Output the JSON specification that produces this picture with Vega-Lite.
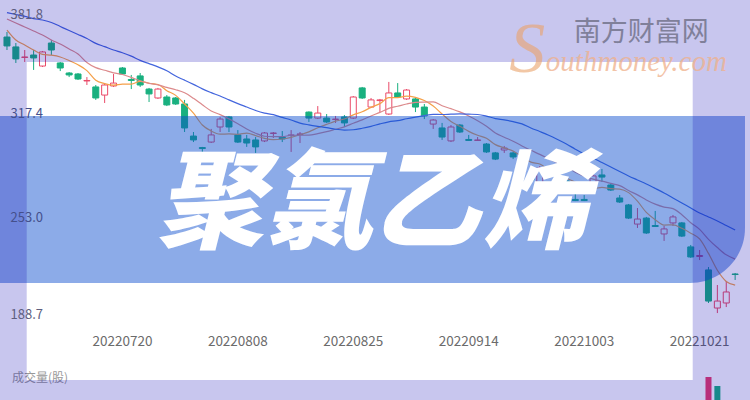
{
"$schema": "https://vega.github.io/schema/vega-lite/v6.json",
"width": 750, "height": 400, "autosize": "none", "padding": 0,
"background": "#ffffff",
"config": {"view": {"stroke": null}, "font": "Noto Sans CJK SC"},
"data": {"values": [
{"i":0,"date":"20220701","open":364.5,"high":367.6,"low":356.5,"close":359.0,"ma5":368.8,"ma10":375.6,"ma20":379.6},
{"i":1,"date":"20220704","open":358.4,"high":360.8,"low":348.5,"close":351.0,"ma5":362.7,"ma10":373.2,"ma20":378.4},
{"i":2,"date":"20220705","open":351.9,"high":356.5,"low":349.1,"close":352.2,"ma5":359.6,"ma10":370.7,"ma20":377.2},
{"i":3,"date":"20220706","open":353.4,"high":356.5,"low":344.2,"close":351.6,"ma5":356.5,"ma10":368.2,"ma20":375.9},
{"i":4,"date":"20220707","open":346.6,"high":355.9,"low":346.0,"close":355.3,"ma5":353.8,"ma10":365.8,"ma20":375.0},
{"i":5,"date":"20220708","open":360.8,"high":362.7,"low":353.4,"close":356.5,"ma5":353.3,"ma10":362.7,"ma20":373.5},
{"i":6,"date":"20220711","open":348.5,"high":349.1,"low":343.5,"close":345.4,"ma5":352.2,"ma10":360.2,"ma20":371.0},
{"i":7,"date":"20220712","open":342.3,"high":342.9,"low":339.8,"close":341.1,"ma5":350.0,"ma10":357.1,"ma20":368.5},
{"i":8,"date":"20220713","open":341.7,"high":342.3,"low":338.0,"close":338.6,"ma5":347.4,"ma10":354.0,"ma20":366.1},
{"i":9,"date":"20220714","open":337.4,"high":339.8,"low":334.9,"close":337.7,"ma5":343.8,"ma10":348.8,"ma20":363.6},
{"i":10,"date":"20220715","open":333.7,"high":334.9,"low":325.7,"close":326.9,"ma5":337.9,"ma10":345.6,"ma20":360.6},
{"i":11,"date":"20220718","open":328.7,"high":336.1,"low":323.8,"close":334.9,"ma5":335.8,"ma10":344.0,"ma20":358.6},
{"i":12,"date":"20220719","open":334.3,"high":341.7,"low":333.7,"close":336.1,"ma5":334.8,"ma10":342.4,"ma20":356.5},
{"i":13,"date":"20220720","open":345.4,"high":346.0,"low":341.1,"close":341.7,"ma5":335.4,"ma10":341.4,"ma20":354.8},
{"i":14,"date":"20220721","open":338.3,"high":341.1,"low":332.4,"close":337.7,"ma5":335.5,"ma10":339.6,"ma20":352.7},
{"i":15,"date":"20220722","open":340.5,"high":342.3,"low":333.7,"close":334.9,"ma5":337.1,"ma10":337.5,"ma20":350.1},
{"i":16,"date":"20220725","open":332.4,"high":333.1,"low":324.4,"close":329.4,"ma5":336.0,"ma10":335.9,"ma20":348.1},
{"i":17,"date":"20220726","open":326.9,"high":333.1,"low":326.3,"close":332.4,"ma5":335.2,"ma10":335.0,"ma20":346.1},
{"i":18,"date":"20220727","open":327.5,"high":328.7,"low":321.9,"close":322.6,"ma5":331.4,"ma10":333.4,"ma20":343.7},
{"i":19,"date":"20220728","open":326.9,"high":327.5,"low":322.6,"close":323.2,"ma5":328.5,"ma10":332.0,"ma20":340.4},
{"i":20,"date":"20220729","open":323.2,"high":325.7,"low":305.9,"close":308.4,"ma5":323.2,"ma10":330.1,"ma20":337.9},
{"i":21,"date":"20220801","open":303.4,"high":305.9,"low":299.7,"close":301.0,"ma5":317.5,"ma10":326.7,"ma20":335.3},
{"i":22,"date":"20220802","open":296.3,"high":296.7,"low":290.5,"close":295.7,"ma5":310.2,"ma10":322.7,"ma20":332.5},
{"i":23,"date":"20220803","open":299.7,"high":307.8,"low":299.1,"close":304.1,"ma5":306.5,"ma10":318.9,"ma20":330.2},
{"i":24,"date":"20220804","open":309.0,"high":315.2,"low":305.9,"close":313.9,"ma5":304.6,"ma10":316.6,"ma20":328.1},
{"i":25,"date":"20220805","open":315.2,"high":315.8,"low":305.9,"close":309.0,"ma5":304.7,"ma10":314.0,"ma20":325.7},
{"i":26,"date":"20220808","open":304.1,"high":307.1,"low":299.1,"close":299.7,"ma5":304.5,"ma10":311.0,"ma20":323.4},
{"i":27,"date":"20220809","open":301.6,"high":304.1,"low":296.7,"close":299.1,"ma5":305.2,"ma10":307.7,"ma20":321.3},
{"i":28,"date":"20220810","open":301.0,"high":302.8,"low":293.0,"close":296.7,"ma5":303.7,"ma10":305.1,"ma20":319.2},
{"i":29,"date":"20220811","open":300.4,"high":305.9,"low":299.7,"close":305.3,"ma5":302.0,"ma10":303.3,"ma20":317.6},
{"i":30,"date":"20220812","open":305.0,"high":305.9,"low":302.2,"close":305.3,"ma5":301.2,"ma10":303.0,"ma20":316.6},
{"i":31,"date":"20220815","open":302.8,"high":306.5,"low":299.7,"close":301.6,"ma5":301.6,"ma10":303.0,"ma20":314.9},
{"i":32,"date":"20220816","open":303.7,"high":307.1,"low":293.6,"close":304.1,"ma5":302.6,"ma10":303.9,"ma20":313.3},
{"i":33,"date":"20220817","open":304.4,"high":305.9,"low":299.1,"close":304.7,"ma5":304.2,"ma10":303.9,"ma20":311.4},
{"i":34,"date":"20220818","open":318.2,"high":318.6,"low":312.1,"close":314.5,"ma5":306.0,"ma10":304.0,"ma20":310.3},
{"i":35,"date":"20220819","open":314.5,"high":321.9,"low":313.9,"close":317.6,"ma5":308.5,"ma10":304.9,"ma20":309.4},
{"i":36,"date":"20220822","open":314.5,"high":317.0,"low":311.5,"close":312.1,"ma5":310.6,"ma10":306.1,"ma20":308.6},
{"i":37,"date":"20220823","open":313.6,"high":315.8,"low":311.5,"close":313.9,"ma5":312.6,"ma10":307.6,"ma20":307.6},
{"i":38,"date":"20220824","open":315.2,"high":316.4,"low":309.0,"close":311.5,"ma5":313.9,"ma10":309.1,"ma20":307.1},
{"i":39,"date":"20220825","open":314.5,"high":328.1,"low":313.9,"close":327.5,"ma5":316.5,"ma10":311.3,"ma20":307.3},
{"i":40,"date":"20220826","open":333.1,"high":333.7,"low":326.3,"close":326.9,"ma5":318.4,"ma10":313.4,"ma20":308.2},
{"i":41,"date":"20220829","open":321.3,"high":326.9,"low":320.7,"close":325.7,"ma5":321.1,"ma10":315.8,"ma20":309.4},
{"i":42,"date":"20220830","open":325.3,"high":326.3,"low":318.2,"close":325.7,"ma5":323.4,"ma10":318.0,"ma20":310.9},
{"i":43,"date":"20220831","open":317.0,"high":336.8,"low":316.4,"close":330.0,"ma5":327.1,"ma10":320.5,"ma20":312.2},
{"i":44,"date":"20220901","open":330.0,"high":336.1,"low":326.9,"close":327.5,"ma5":327.1,"ma10":321.8,"ma20":312.9},
{"i":45,"date":"20220902","open":326.3,"high":332.4,"low":325.7,"close":331.8,"ma5":328.1,"ma10":323.2,"ma20":314.1},
{"i":46,"date":"20220905","open":326.3,"high":326.9,"low":318.2,"close":321.3,"ma5":327.3,"ma10":324.2,"ma20":315.1},
{"i":47,"date":"20220906","open":321.3,"high":323.2,"low":313.9,"close":315.8,"ma5":325.3,"ma10":324.4,"ma20":316.0},
{"i":48,"date":"20220907","open":310.8,"high":313.9,"low":307.8,"close":313.3,"ma5":321.9,"ma10":324.5,"ma20":316.8},
{"i":49,"date":"20220908","open":308.4,"high":311.5,"low":301.0,"close":302.8,"ma5":317.0,"ma10":322.1,"ma20":316.7},
{"i":50,"date":"20220909","open":300.4,"high":310.2,"low":299.7,"close":309.0,"ma5":312.4,"ma10":320.3,"ma20":316.9},
{"i":51,"date":"20220913","open":310.2,"high":310.8,"low":305.3,"close":305.9,"ma5":309.4,"ma10":318.3,"ma20":317.1},
{"i":52,"date":"20220914","open":301.3,"high":304.1,"low":300.4,"close":300.7,"ma5":306.3,"ma10":315.8,"ma20":316.9},
{"i":53,"date":"20220915","open":300.7,"high":302.8,"low":300.4,"close":301.0,"ma5":303.9,"ma10":312.9,"ma20":316.7},
{"i":54,"date":"20220916","open":298.5,"high":299.1,"low":293.0,"close":293.6,"ma5":302.0,"ma10":309.5,"ma20":315.7},
{"i":55,"date":"20220919","open":293.0,"high":293.6,"low":288.6,"close":289.2,"ma5":298.1,"ma10":305.3,"ma20":314.2},
{"i":56,"date":"20220920","open":294.8,"high":297.3,"low":293.0,"close":296.0,"ma5":296.1,"ma10":302.7,"ma20":313.4},
{"i":57,"date":"20220921","open":293.0,"high":293.6,"low":289.2,"close":290.5,"ma5":294.1,"ma10":300.2,"ma20":312.3},
{"i":58,"date":"20220922","open":280.6,"high":285.5,"low":279.4,"close":284.3,"ma5":290.7,"ma10":297.3,"ma20":310.9},
{"i":59,"date":"20220923","open":278.1,"high":279.4,"low":275.1,"close":276.3,"ma5":287.3,"ma10":294.6,"ma20":308.4},
{"i":60,"date":"20220926","open":274.4,"high":284.9,"low":273.2,"close":283.7,"ma5":286.2,"ma10":292.1,"ma20":306.2},
{"i":61,"date":"20220927","open":282.5,"high":283.1,"low":277.5,"close":278.8,"ma5":282.7,"ma10":289.4,"ma20":303.9},
{"i":62,"date":"20220928","open":276.3,"high":277.5,"low":273.2,"close":274.4,"ma5":279.5,"ma10":286.8,"ma20":301.3},
{"i":63,"date":"20220929","open":275.7,"high":276.3,"low":272.6,"close":273.8,"ma5":277.4,"ma10":284.1,"ma20":298.5},
{"i":64,"date":"20220930","open":264.3,"high":268.3,"low":263.3,"close":263.6,"ma5":274.9,"ma10":281.1,"ma20":295.3},
{"i":65,"date":"20221003","open":264.3,"high":267.0,"low":263.3,"close":263.6,"ma5":271.0,"ma10":278.6,"ma20":292.3},
{"i":66,"date":"20221005","open":274.4,"high":280.6,"low":270.7,"close":278.8,"ma5":271.0,"ma10":276.8,"ma20":289.9},
{"i":67,"date":"20221006","open":279.4,"high":283.1,"low":275.1,"close":278.1,"ma5":271.7,"ma10":275.6,"ma20":287.1},
{"i":68,"date":"20221007","open":273.2,"high":273.8,"low":269.5,"close":270.1,"ma5":271.0,"ma10":274.2,"ma20":284.3},
{"i":69,"date":"20221010","open":265.2,"high":267.0,"low":262.1,"close":262.7,"ma5":270.7,"ma10":272.8,"ma20":281.5},
{"i":70,"date":"20221011","open":260.9,"high":261.5,"low":252.2,"close":252.8,"ma5":268.5,"ma10":269.8,"ma20":278.8},
{"i":71,"date":"20221012","open":249.1,"high":259.0,"low":246.7,"close":252.2,"ma5":263.2,"ma10":267.1,"ma20":276.3},
{"i":72,"date":"20221013","open":252.8,"high":253.5,"low":243.0,"close":243.6,"ma5":256.3,"ma10":264.0,"ma20":273.8},
{"i":73,"date":"20221014","open":248.2,"high":257.2,"low":247.3,"close":247.6,"ma5":251.8,"ma10":261.4,"ma20":271.1},
{"i":74,"date":"20221017","open":243.0,"high":247.9,"low":238.7,"close":246.1,"ma5":248.5,"ma10":259.6,"ma20":268.3},
{"i":75,"date":"20221018","open":249.8,"high":254.7,"low":247.9,"close":253.5,"ma5":248.6,"ma10":258.6,"ma20":265.2},
{"i":76,"date":"20221019","open":249.8,"high":250.4,"low":241.1,"close":241.7,"ma5":246.5,"ma10":254.9,"ma20":262.1},
{"i":77,"date":"20221020","open":235.0,"high":236.2,"low":228.2,"close":228.8,"ma5":243.5,"ma10":249.9,"ma20":259.0},
{"i":78,"date":"20221021","open":229.1,"high":233.1,"low":226.9,"close":229.7,"ma5":239.9,"ma10":245.8,"ma20":255.9},
{"i":79,"date":"20221024","open":220.8,"high":222.6,"low":200.4,"close":201.6,"ma5":231.0,"ma10":239.7,"ma20":253.5,"vol":166000,"volDir":"up"},
{"i":80,"date":"20221025","open":197.3,"high":211.5,"low":194.2,"close":201.6,"ma5":220.6,"ma10":234.6,"ma20":251.0,"vol":148000,"volDir":"down"},
{"i":81,"date":"20221026","open":200.4,"high":214.0,"low":197.9,"close":207.2,"ma5":213.7,"ma10":230.1,"ma20":248.2},
{"i":82,"date":"20221027","open":218.3,"high":218.9,"low":214.6,"close":218.0,"ma5":211.4,"ma10":227.5,"ma20":245.4}
]},
"resolve": {"scale": {"y": "independent"}},
"layer": [
  {"mark": {"type": "rule", "strokeWidth": 1},
   "encoding": {
    "x": {"field": "i", "type": "quantitative", "scale": {"domain": [-0.2222, 83.1111], "nice": false, "zero": false}, "axis": null},
    "y": {"field": "low", "type": "quantitative", "scale": {"domain": [140.55, 387.35], "nice": false, "zero": false},
      "axis": {"values": [381.8, 317.4, 253.0, 188.7], "format": ".1f", "orient": "left", "labelAlign": "left", "labelPadding": -10, "ticks": false, "domain": false, "grid": false, "title": null, "labelFontSize": 13, "labelFont": "Noto Sans CJK SC", "labelOverlap": false, "labelFlush": false, "zindex": 1,
        "labelColor": {"condition": {"test": "datum.value > 200 && datum.value < 350", "value": "#45508c"}, "value": "#5e5e7e"},
        "labelBaseline": {"condition": [{"test": "datum.value > 380", "value": "top"}, {"test": "datum.value < 190", "value": "bottom"}], "value": "middle"}}},
    "y2": {"field": "high"},
    "color": {"condition": {"test": "datum.close > datum.open", "value": "#ea4a68"}, "value": "#19b07f"}
   }},
  {"mark": {"type": "bar", "size": 6, "strokeWidth": 1},
   "encoding": {
    "x": {"field": "i", "type": "quantitative", "scale": {"domain": [-0.2222, 83.1111], "nice": false, "zero": false}, "axis": null},
    "y": {"field": "open", "type": "quantitative", "scale": {"domain": [140.55, 387.35], "nice": false, "zero": false}, "axis": null},
    "y2": {"field": "close"},
    "fill": {"condition": {"test": "datum.close > datum.open", "value": "#ffffff"}, "value": "#19b07f"},
    "stroke": {"condition": {"test": "datum.close > datum.open", "value": "#ea4a68"}, "value": "#19b07f"}
   }},
  {"mark": {"type": "line", "color": "#f5a04a", "strokeWidth": 1.2, "interpolate": "monotone"},
   "encoding": {
    "x": {"field": "i", "type": "quantitative", "scale": {"domain": [-0.2222, 83.1111], "nice": false, "zero": false}, "axis": null},
    "y": {"field": "ma5", "type": "quantitative", "scale": {"domain": [140.55, 387.35], "nice": false, "zero": false}, "axis": null}
   }},
  {"mark": {"type": "line", "color": "#dc8a8c", "strokeWidth": 1.2, "interpolate": "monotone"},
   "encoding": {
    "x": {"field": "i", "type": "quantitative", "scale": {"domain": [-0.2222, 83.1111], "nice": false, "zero": false}, "axis": null},
    "y": {"field": "ma10", "type": "quantitative", "scale": {"domain": [140.55, 387.35], "nice": false, "zero": false}, "axis": null}
   }},
  {"mark": {"type": "line", "color": "#4466dd", "strokeWidth": 1.2, "interpolate": "monotone"},
   "encoding": {
    "x": {"field": "i", "type": "quantitative", "scale": {"domain": [-0.2222, 83.1111], "nice": false, "zero": false}, "axis": null},
    "y": {"field": "ma20", "type": "quantitative", "scale": {"domain": [140.55, 387.35], "nice": false, "zero": false}, "axis": null}
   }},
  {"transform": [{"filter": {"field": "date", "oneOf": ["20220720", "20220808", "20220825", "20220914", "20221003", "20221021"]}}],
   "mark": {"type": "text", "fontSize": 13.5, "color": "#6b6b6b", "align": "center", "baseline": "middle", "font": "Noto Sans CJK SC"},
   "encoding": {
    "x": {"field": "i", "type": "quantitative", "scale": {"domain": [-0.2222, 83.1111], "nice": false, "zero": false}, "axis": null},
    "y": {"datum": 176.3, "type": "quantitative", "scale": {"domain": [140.55, 387.35], "nice": false, "zero": false}, "axis": null},
    "text": {"field": "date"}
   }},
  {"data": {"values": [{}]},
   "mark": {"type": "text", "text": "成交量(股)", "fontSize": 12, "color": "#999999", "align": "left", "baseline": "middle", "font": "Noto Sans CJK SC"},
   "encoding": {
    "x": {"datum": 0.556, "type": "quantitative", "scale": {"domain": [-0.2222, 83.1111], "nice": false, "zero": false}, "axis": null},
    "y": {"datum": 154.1, "type": "quantitative", "scale": {"domain": [140.55, 387.35], "nice": false, "zero": false}, "axis": null}
   }},
  {"transform": [{"filter": "isValid(datum.vol)"}],
   "mark": {"type": "bar", "size": 6},
   "encoding": {
    "x": {"field": "i", "type": "quantitative", "scale": {"domain": [-0.2222, 83.1111], "nice": false, "zero": false}, "axis": null},
    "y": {"field": "vol", "type": "quantitative", "scale": {"domain": [0, 200000], "range": [460, 360], "nice": false}, "axis": null},
    "color": {"condition": {"test": "datum.volDir === 'up'", "value": "#ea3a6a"}, "value": "#19b07f"}
   }},
  {"data": {"values": [{}]},
   "mark": {"type": "rect", "color": "#0a4cce", "opacity": 0.47, "cornerRadiusBottomRight": 55},
   "encoding": {
    "x": {"datum": -1, "type": "quantitative", "scale": {"domain": [-0.2222, 83.1111], "nice": false, "zero": false}, "axis": null},
    "x2": {"datum": 83.1111},
    "y": {"datum": 315.78, "type": "quantitative", "scale": {"domain": [140.55, 387.35], "nice": false, "zero": false}, "axis": null},
    "y2": {"datum": 212.74}
   }},
  {"data": {"values": [{}]},
   "mark": {"type": "rect", "color": "#1109b4", "opacity": 0.23},
   "encoding": {
    "x": {"datum": -1, "type": "quantitative", "scale": {"domain": [-0.2222, 83.1111], "nice": false, "zero": false}, "axis": null},
    "x2": {"datum": 84},
    "y": {"datum": 395, "type": "quantitative", "scale": {"domain": [140.55, 387.35], "nice": false, "zero": false}, "axis": null},
    "y2": {"datum": 349.1}
   }},
  {"data": {"values": [{}]},
   "mark": {"type": "rect", "color": "#1109b4", "opacity": 0.23},
   "encoding": {
    "x": {"datum": -1, "type": "quantitative", "scale": {"domain": [-0.2222, 83.1111], "nice": false, "zero": false}, "axis": null},
    "x2": {"datum": 84},
    "y": {"datum": 152.89, "type": "quantitative", "scale": {"domain": [140.55, 387.35], "nice": false, "zero": false}, "axis": null},
    "y2": {"datum": 130}
   }},
  {"data": {"values": [{}]},
   "mark": {"type": "rect", "color": "#1109b4", "opacity": 0.23},
   "encoding": {
    "x": {"datum": -1, "type": "quantitative", "scale": {"domain": [-0.2222, 83.1111], "nice": false, "zero": false}, "axis": null},
    "x2": {"datum": 2.2222},
    "y": {"datum": 349.1, "type": "quantitative", "scale": {"domain": [140.55, 387.35], "nice": false, "zero": false}, "axis": null},
    "y2": {"datum": 152.89}
   }},
  {"data": {"values": [{}]},
   "mark": {"type": "rect", "color": "#1109b4", "opacity": 0.23},
   "encoding": {
    "x": {"datum": 77.2222, "type": "quantitative", "scale": {"domain": [-0.2222, 83.1111], "nice": false, "zero": false}, "axis": null},
    "x2": {"datum": 84},
    "y": {"datum": 349.1, "type": "quantitative", "scale": {"domain": [140.55, 387.35], "nice": false, "zero": false}, "axis": null},
    "y2": {"datum": 152.89}
   }},
  {"data": {"values": [{}]},
   "mark": {"type": "text", "text": "聚氯乙烯", "font": "Noto Sans CJK SC", "fontSize": 108, "fontWeight": 900, "fontStyle": "italic", "color": "#ffffff", "align": "center", "baseline": "alphabetic"},
   "encoding": {
    "x": {"datum": 41.11, "type": "quantitative", "scale": {"domain": [-0.2222, 83.1111], "nice": false, "zero": false}, "axis": null},
    "y": {"datum": 239.27, "type": "quantitative", "scale": {"domain": [140.55, 387.35], "nice": false, "zero": false}, "axis": null}
   }},
  {"data": {"values": [{}]},
   "mark": {"type": "text", "text": "南方财富网", "font": "Noto Sans CJK SC", "fontSize": 27, "color": "#80809a", "align": "center", "baseline": "alphabetic"},
   "encoding": {
    "x": {"datum": 71.44, "type": "quantitative", "scale": {"domain": [-0.2222, 83.1111], "nice": false, "zero": false}, "axis": null},
    "y": {"datum": 362.0, "type": "quantitative", "scale": {"domain": [140.55, 387.35], "nice": false, "zero": false}, "axis": null}
   }},
  {"data": {"values": [{}]},
   "mark": {"type": "text", "text": "S", "font": "Liberation Serif", "fontSize": 72, "fontStyle": "italic", "color": "#eba36a", "opacity": 0.6, "align": "center", "baseline": "alphabetic"},
   "encoding": {
    "x": {"datum": 58.6, "type": "quantitative", "scale": {"domain": [-0.2222, 83.1111], "nice": false, "zero": false}, "axis": null},
    "y": {"datum": 342.9, "type": "quantitative", "scale": {"domain": [140.55, 387.35], "nice": false, "zero": false}, "axis": null}
   }},
  {"data": {"values": [{}]},
   "mark": {"type": "text", "text": "outhmoney.com", "font": "Liberation Serif", "fontSize": 29, "fontStyle": "italic", "color": "#efb08a", "opacity": 0.75, "align": "left", "baseline": "alphabetic"},
   "encoding": {
    "x": {"datum": 60.67, "type": "quantitative", "scale": {"domain": [-0.2222, 83.1111], "nice": false, "zero": false}, "axis": null},
    "y": {"datum": 343.3, "type": "quantitative", "scale": {"domain": [140.55, 387.35], "nice": false, "zero": false}, "axis": null}
   }}
]
}
